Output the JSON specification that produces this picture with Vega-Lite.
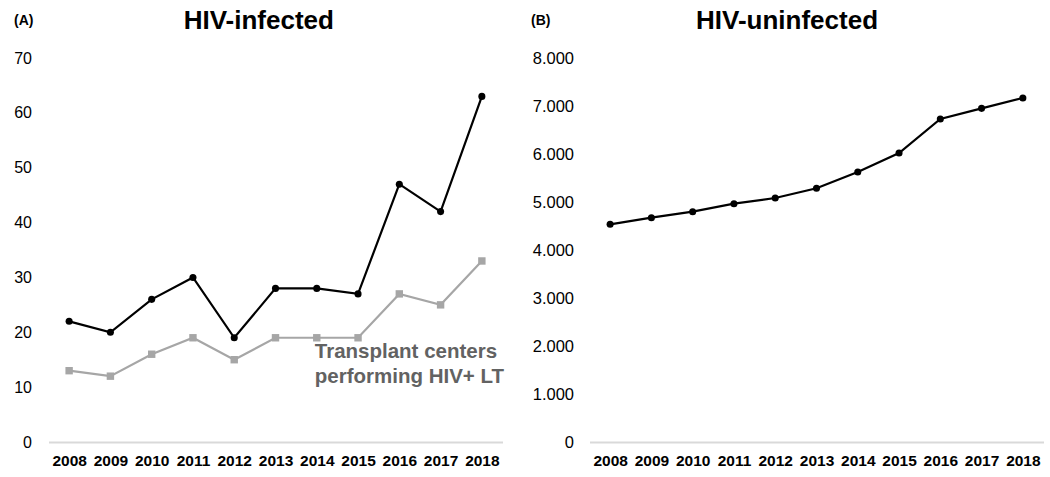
{
  "$schema": "https://vega.github.io/schema/vega-lite/v6.json",
  "padding": {"left": 13.5, "top": 8, "right": 5, "bottom": 5},
  "background": "#ffffff",
  "config": {
    "view": {"stroke": null},
    "font": "Liberation Sans",
    "locale": {"number": {"decimal": ",", "thousands": ".", "grouping": [3], "currency": ["", " €"]}}
  },
  "bounds": "flush",
  "spacing": 87,
  "datasets": {
    "hiv": [
      {"panel": "A", "series": "HIV+ LT", "year": "2008", "value": 22},
      {"panel": "A", "series": "HIV+ LT", "year": "2009", "value": 20},
      {"panel": "A", "series": "HIV+ LT", "year": "2010", "value": 26},
      {"panel": "A", "series": "HIV+ LT", "year": "2011", "value": 30},
      {"panel": "A", "series": "HIV+ LT", "year": "2012", "value": 19},
      {"panel": "A", "series": "HIV+ LT", "year": "2013", "value": 28},
      {"panel": "A", "series": "HIV+ LT", "year": "2014", "value": 28},
      {"panel": "A", "series": "HIV+ LT", "year": "2015", "value": 27},
      {"panel": "A", "series": "HIV+ LT", "year": "2016", "value": 47},
      {"panel": "A", "series": "HIV+ LT", "year": "2017", "value": 42},
      {"panel": "A", "series": "HIV+ LT", "year": "2018", "value": 63},
      {"panel": "A", "series": "Transplant centers", "year": "2008", "value": 13},
      {"panel": "A", "series": "Transplant centers", "year": "2009", "value": 12},
      {"panel": "A", "series": "Transplant centers", "year": "2010", "value": 16},
      {"panel": "A", "series": "Transplant centers", "year": "2011", "value": 19},
      {"panel": "A", "series": "Transplant centers", "year": "2012", "value": 15},
      {"panel": "A", "series": "Transplant centers", "year": "2013", "value": 19},
      {"panel": "A", "series": "Transplant centers", "year": "2014", "value": 19},
      {"panel": "A", "series": "Transplant centers", "year": "2015", "value": 19},
      {"panel": "A", "series": "Transplant centers", "year": "2016", "value": 27},
      {"panel": "A", "series": "Transplant centers", "year": "2017", "value": 25},
      {"panel": "A", "series": "Transplant centers", "year": "2018", "value": 33},
      {"panel": "B", "series": "HIV- LT", "year": "2008", "value": 4535},
      {"panel": "B", "series": "HIV- LT", "year": "2009", "value": 4673},
      {"panel": "B", "series": "HIV- LT", "year": "2010", "value": 4798},
      {"panel": "B", "series": "HIV- LT", "year": "2011", "value": 4965},
      {"panel": "B", "series": "HIV- LT", "year": "2012", "value": 5083},
      {"panel": "B", "series": "HIV- LT", "year": "2013", "value": 5285},
      {"panel": "B", "series": "HIV- LT", "year": "2014", "value": 5625},
      {"panel": "B", "series": "HIV- LT", "year": "2015", "value": 6021},
      {"panel": "B", "series": "HIV- LT", "year": "2016", "value": 6729},
      {"panel": "B", "series": "HIV- LT", "year": "2017", "value": 6951},
      {"panel": "B", "series": "HIV- LT", "year": "2018", "value": 7167}
    ],
    "notes": [
      {"year": "2014", "value": 15.3, "label": "Transplant centers\nperforming HIV+ LT"}
    ]
  },
  "hconcat": [
    {
      "width": 454,
      "height": 384,
      "title": {"text": "HIV-infected", "fontSize": 26, "fontWeight": "bold", "color": "#000000", "anchor": "middle", "frame": "bounds", "offset": -21},
      "encoding": {
        "x": {"field": "year", "type": "ordinal", "scale": {"type": "point", "padding": 0.5},
          "axis": {"title": null, "labelAngle": 0, "ticks": false, "domainColor": "#d9d9d9", "domainWidth": 2, "labelFontSize": 15.5, "labelFontWeight": "bold", "labelColor": "#000000", "labelPadding": 11}},
        "y": {"field": "value", "type": "quantitative", "scale": {"domain": [0, 70], "nice": false},
          "axis": {"title": "(A)", "titleAngle": 0, "titleX": -35, "titleY": -38, "titleAlign": "left", "titleBaseline": "middle", "titleFontSize": 14, "titleFontWeight": "bold", "titleColor": "#000000", "values": [0, 10, 20, 30, 40, 50, 60, 70], "grid": false, "domain": false, "ticks": false, "labelPadding": 17, "labelFontSize": 16, "labelColor": "#000000"}}
      },
      "layer": [
        {
          "data": {"name": "hiv"},
          "transform": [{"filter": "datum.panel === 'A'"}],
          "mark": {"type": "line", "strokeWidth": 2.2},
          "encoding": {
            "color": {"field": "series", "type": "nominal", "scale": {"domain": ["HIV+ LT", "Transplant centers"], "range": ["#000000", "#a6a6a6"]}, "legend": null}
          }
        },
        {
          "data": {"name": "hiv"},
          "transform": [{"filter": "datum.panel === 'A'"}],
          "mark": {"type": "point", "filled": true, "opacity": 1},
          "encoding": {
            "color": {"field": "series", "type": "nominal", "scale": {"domain": ["HIV+ LT", "Transplant centers"], "range": ["#000000", "#a6a6a6"]}, "legend": null},
            "shape": {"field": "series", "type": "nominal", "scale": {"domain": ["HIV+ LT", "Transplant centers"], "range": ["circle", "square"]}, "legend": null},
            "size": {"field": "series", "type": "nominal", "scale": {"domain": ["HIV+ LT", "Transplant centers"], "range": [50, 55]}, "legend": null}
          }
        },
        {
          "data": {"name": "notes"},
          "mark": {"type": "text", "align": "left", "baseline": "alphabetic", "dx": -2, "fontSize": 20.5, "fontWeight": "bold", "color": "#626262", "lineBreak": "\n", "lineHeight": 25},
          "encoding": {"text": {"field": "label"}}
        }
      ]
    },
    {
      "width": 454,
      "height": 384,
      "title": {"text": "HIV-uninfected", "fontSize": 26, "fontWeight": "bold", "color": "#000000", "anchor": "middle", "frame": "bounds", "offset": -21},
      "data": {"name": "hiv"},
      "transform": [{"filter": "datum.panel === 'B'"}],
      "encoding": {
        "x": {"field": "year", "type": "ordinal", "scale": {"type": "point", "padding": 0.5},
          "axis": {"title": null, "labelAngle": 0, "ticks": false, "domainColor": "#d9d9d9", "domainWidth": 2, "labelFontSize": 15.5, "labelFontWeight": "bold", "labelColor": "#000000", "labelPadding": 11}},
        "y": {"field": "value", "type": "quantitative", "scale": {"domain": [0, 8000], "nice": false},
          "axis": {"title": "(B)", "titleAngle": 0, "titleX": -59, "titleY": -38, "titleAlign": "left", "titleBaseline": "middle", "titleFontSize": 14, "titleFontWeight": "bold", "titleColor": "#000000", "values": [0, 1000, 2000, 3000, 4000, 5000, 6000, 7000, 8000], "format": ",d", "grid": false, "domain": false, "ticks": false, "labelPadding": 16, "labelFontSize": 16.5, "labelColor": "#000000"}}
      },
      "layer": [
        {"mark": {"type": "line", "strokeWidth": 2.2, "color": "#000000"}},
        {"mark": {"type": "point", "filled": true, "opacity": 1, "color": "#000000", "size": 50, "shape": "circle"}}
      ]
    }
  ]
}
